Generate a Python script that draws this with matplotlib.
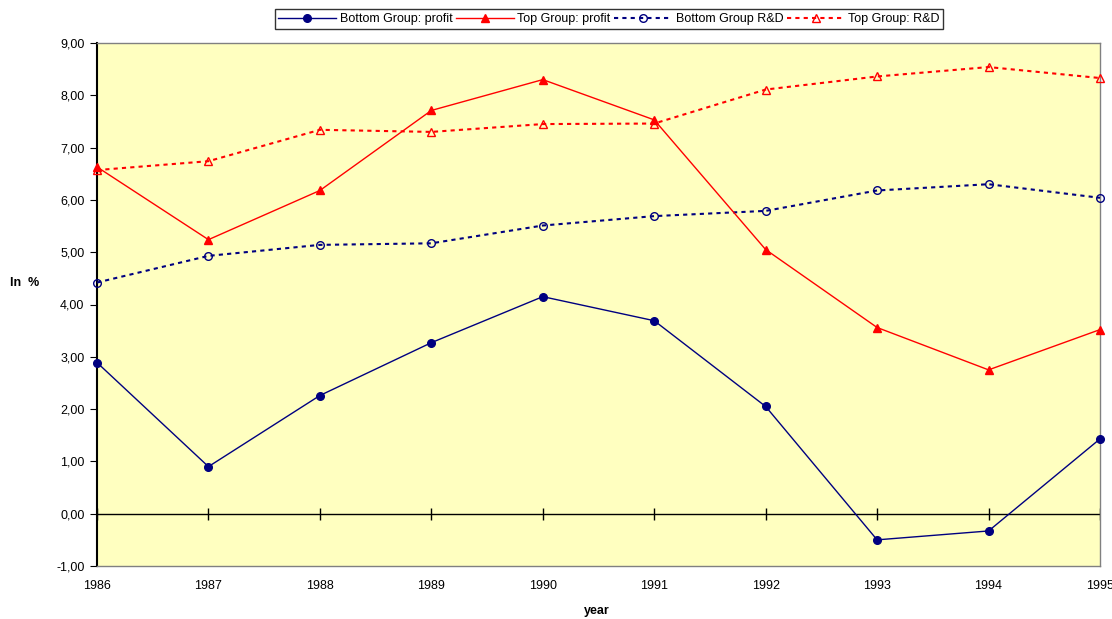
import matplotlib.pyplot as plt
from matplotlib.ticker import FuncFormatter

plt.rcParams['font.family'] = ['Liberation Sans', 'DejaVu Sans']

years = [1986, 1987, 1988, 1989, 1990, 1991, 1992, 1993, 1994, 1995]
bottom_profit = [2.89, 0.90, 2.26, 3.27, 4.15, 3.69, 2.05, -0.50, -0.33, 1.43]
top_profit = [6.63, 5.24, 6.18, 7.71, 8.30, 7.53, 5.05, 3.56, 2.75, 3.52]
bottom_rd = [4.42, 4.93, 5.14, 5.17, 5.51, 5.69, 5.79, 6.18, 6.30, 6.04]
top_rd = [6.57, 6.74, 7.34, 7.30, 7.45, 7.46, 8.11, 8.36, 8.54, 8.33]

NAVY = '#000080'
RED = '#FF0000'

fig = plt.figure(figsize=(11.12, 6.19), dpi=100)
ax = fig.add_axes([97 / 1112, 53 / 619, 1003 / 1112, 523 / 619])
ax.set_facecolor('#FFFFC0')

ax.plot(years, bottom_profit, color=NAVY, lw=1, marker='o', ms=5.5,
        label='Bottom Group: profit', clip_on=False, zorder=4)
ax.plot(years, top_profit, color=RED, lw=1, marker='^', ms=6,
        label='Top Group: profit', clip_on=False, zorder=4)
ax.plot(years, bottom_rd, color=NAVY, lw=1.5, ls=(0, (2, 2)), marker='o', ms=5.5,
        mfc='none', mew=1, label='Bottom Group R&D', clip_on=False, zorder=3)
ax.plot(years, top_rd, color=RED, lw=1.5, ls=(0, (2, 2)), marker='^', ms=6,
        mfc='none', mew=1, label='Top Group: R&D', clip_on=False, zorder=3)

# zero line with year ticks crossing it
ax.axhline(0, color='black', lw=1, zorder=1)
ax.plot(years, [0] * len(years), ls='none', marker='|', ms=9, color='black',
        mew=1, zorder=1)

ax.set_xlim(1986, 1995)
ax.set_ylim(-1, 9)
ax.set_xticks(years)
ax.set_yticks(range(-1, 10))
ax.yaxis.set_major_formatter(FuncFormatter(lambda v, p: f"{v:.2f}".replace('.', ',')))
ax.tick_params(axis='x', length=0, pad=10, labelsize=9)
ax.tick_params(axis='y', length=5, direction='out', labelsize=9, pad=4)

for s in ['top', 'right', 'bottom']:
    ax.spines[s].set_color('#808080')
    ax.spines[s].set_linewidth(1)
ax.spines['left'].set_color('black')
ax.spines['left'].set_linewidth(1.5)

fig.text(25 / 1112, 1 - 283 / 619, 'In  %', fontsize=9, fontweight='bold',
         ha='center', va='center')
fig.text(597 / 1112, 1 - 611 / 619, 'year', fontsize=9, fontweight='bold',
         ha='center', va='center')

leg = fig.legend(loc='center', bbox_to_anchor=(609 / 1112, 1 - 19 / 619), ncol=4,
                 fontsize=9, frameon=True, fancybox=False, handlelength=4.6,
                 handletextpad=0.3, columnspacing=0.3, borderpad=0.3,
                 edgecolor='black')
leg.get_frame().set_linewidth(1)

fig.savefig('out.png', dpi=100)
